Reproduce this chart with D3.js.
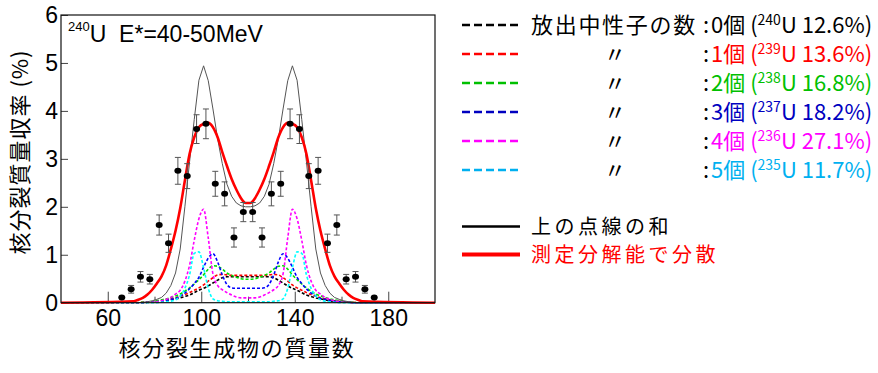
<!DOCTYPE html>
<html>
<head>
<meta charset="utf-8">
<script src="https://cdn.jsdelivr.net/npm/d3@7"></script>
<style>
  body { margin: 0; background: #fff; }
  text { font-family: "Noto Sans CJK JP", "Noto Sans", sans-serif; }
  .num { font-family: "Liberation Sans", Arial, sans-serif; }
</style>
</head>
<body>
<svg id="chart" width="878" height="373"></svg>
<script>
// mass numbers of the model curves
const masses = [40,
  71, 73, 75, 77, 79, 81, 83, 85, 87, 89, 91, 93, 95, 97, 99, 101, 103, 105, 107, 109, 111, 113, 115, 117, 119,
  121, 123, 125, 127, 129, 131, 133, 135, 137, 139, 141, 143, 145, 147, 149, 151, 153, 155, 157, 159, 161, 163, 165, 167, 169,
  200]

// yields (%) for each number of emitted neutrons
const n0 = [0,
  0, 0, 0, 0.01, 0.01, 0.02, 0.03, 0.04, 0.06, 0.08, 0.10, 0.13, 0.16, 0.21, 0.26, 0.30, 0.35, 0.41, 0.47, 0.52, 0.54, 0.54, 0.54, 0.54, 0.54,
  0.54, 0.54, 0.54, 0.54, 0.54, 0.52, 0.47, 0.41, 0.35, 0.30, 0.26, 0.21, 0.16, 0.13, 0.10, 0.08, 0.06, 0.04, 0.03, 0.02, 0.01, 0.01, 0, 0, 0,
  0]
const n1 = [0,
  0, 0, 0.01, 0.01, 0.02, 0.03, 0.04, 0.06, 0.08, 0.10, 0.14, 0.17, 0.21, 0.26, 0.31, 0.37, 0.45, 0.52, 0.58, 0.59, 0.58, 0.57, 0.57, 0.57, 0.57,
  0.57, 0.57, 0.57, 0.57, 0.58, 0.59, 0.58, 0.52, 0.45, 0.37, 0.31, 0.26, 0.21, 0.17, 0.14, 0.10, 0.08, 0.06, 0.04, 0.03, 0.02, 0.01, 0.01, 0, 0,
  0]
const n2 = [0,
  0, 0, 0.01, 0.01, 0.02, 0.04, 0.06, 0.08, 0.11, 0.14, 0.18, 0.24, 0.31, 0.39, 0.48, 0.58, 0.70, 0.77, 0.76, 0.70, 0.62, 0.57, 0.53, 0.50, 0.49,
  0.49, 0.50, 0.53, 0.57, 0.62, 0.70, 0.76, 0.77, 0.70, 0.58, 0.48, 0.39, 0.31, 0.24, 0.18, 0.14, 0.11, 0.08, 0.06, 0.04, 0.02, 0.01, 0.01, 0, 0,
  0]
const n3 = [0,
  0, 0, 0, 0.01, 0.01, 0.02, 0.03, 0.05, 0.07, 0.09, 0.14, 0.20, 0.29, 0.40, 0.53, 0.74, 0.93, 1.02, 0.85, 0.58, 0.38, 0.31, 0.30, 0.30, 0.30,
  0.30, 0.30, 0.30, 0.31, 0.38, 0.58, 0.85, 1.02, 0.93, 0.74, 0.53, 0.40, 0.29, 0.20, 0.14, 0.09, 0.07, 0.05, 0.03, 0.02, 0.01, 0.01, 0, 0, 0,
  0]
const n4 = [0,
  0, 0, 0, 0.01, 0.01, 0.02, 0.04, 0.07, 0.11, 0.18, 0.26, 0.45, 0.78, 1.30, 1.75, 1.95, 1.35, 0.60, 0.36, 0.27, 0.21, 0.16, 0.12, 0.10, 0.10,
  0.10, 0.10, 0.12, 0.16, 0.21, 0.27, 0.36, 0.60, 1.35, 1.95, 1.75, 1.30, 0.78, 0.45, 0.26, 0.18, 0.11, 0.07, 0.04, 0.02, 0.01, 0.01, 0, 0, 0,
  0]
const n5 = [0,
  0, 0, 0, 0, 0, 0, 0.01, 0.02, 0.03, 0.06, 0.14, 0.30, 0.58, 1.03, 1.06, 0.73, 0.30, 0.08, 0.04, 0.03, 0.02, 0.02, 0.02, 0.02, 0.02,
  0.02, 0.02, 0.02, 0.02, 0.02, 0.03, 0.04, 0.08, 0.30, 0.73, 1.06, 1.03, 0.58, 0.30, 0.14, 0.06, 0.03, 0.02, 0.01, 0, 0, 0, 0, 0, 0,
  0]

// sum of the dashed curves, and the sum smeared by the resolution
const sumLine = [0,
  0, 0, 0.01, 0.02, 0.04, 0.07, 0.11, 0.20, 0.36, 0.62, 1.12, 2.00, 2.94, 3.82, 4.64, 4.94, 4.63, 4.04, 3.42, 2.90, 2.47, 2.22, 2.08, 2.02, 2.00,
  2.00, 2.02, 2.08, 2.22, 2.47, 2.90, 3.42, 4.04, 4.63, 4.94, 4.64, 3.82, 2.94, 2.00, 1.12, 0.62, 0.36, 0.20, 0.11, 0.07, 0.04, 0.02, 0.01, 0, 0,
  0]
const smeared = [0,
  0.03, 0.06, 0.10, 0.17, 0.27, 0.40, 0.55, 0.78, 1.12, 1.50, 1.97, 2.55, 3.10, 3.45, 3.66, 3.73, 3.75, 3.66, 3.45, 3.14, 2.85, 2.58, 2.36, 2.18, 2.08,
  2.08, 2.18, 2.36, 2.58, 2.85, 3.14, 3.45, 3.66, 3.75, 3.73, 3.66, 3.45, 3.10, 2.55, 1.97, 1.50, 1.12, 0.78, 0.55, 0.40, 0.27, 0.17, 0.10, 0.06, 0.03,
  0]

// measured yields
const dataMass = [66, 70, 74, 78, 82, 86, 90, 94, 98, 102, 106, 110, 114, 118, 122, 126, 130, 134, 138, 142, 146, 150, 154, 158, 162, 166, 170, 174]
const dataYield = [0.11, 0.28, 0.54, 0.49, 1.62, 1.24, 2.75, 2.64, 3.62, 3.73, 2.48, 2.27, 1.36, 1.89, 1.89, 1.36, 2.27, 2.48, 3.73, 3.62, 2.64, 2.75, 1.24, 1.62, 0.49, 0.54, 0.28, 0.11]
const dataErr = [0, 0.08, 0.11, 0.10, 0.21, 0.19, 0.28, 0.26, 0.30, 0.31, 0.26, 0.25, 0.20, 0.20, 0.20, 0.20, 0.25, 0.26, 0.31, 0.30, 0.26, 0.28, 0.19, 0.21, 0.10, 0.11, 0.08, 0]

const xTicks = [60, 100, 140, 180]
const xMinor = [80, 120, 160]
const yTicks = [0, 1, 2, 3, 4, 5, 6]

// legend
const neutronCounts = ['0', '1', '2', '3', '4', '5']
const isotopes = ['240', '239', '238', '237', '236', '235']
const fractions = ['12.6%', '13.6%', '16.8%', '18.2%', '27.1%', '11.7%']
const lineColors = ['#000000', '#ff0000', '#00dd00', '#0000ff', '#ff00ff', '#00ffff']
const legendColors = ['#000000', '#ff0000', '#00c000', '#0000c0', '#ff00ff', '#00b0f0']

const svg = d3.select('#chart')
const width = +svg.attr('width')
const height = +svg.attr('height')
svg.append('rect').attr('width', width).attr('height', height).attr('fill', '#fff')

const plot = { left: 61, right: 435, top: 15, bottom: 302.7 }
const x = d3.scaleLinear().domain([40, 200]).range([plot.left, plot.right])
const y = d3.scaleLinear().domain([0, 6]).range([plot.bottom, plot.top])

// ticks (inward)
const xAxis = svg.append('g')
  .attr('transform', `translate(0,${plot.bottom})`)
  .call(d3.axisBottom(x).tickValues(xTicks).tickSizeInner(-11).tickSizeOuter(0).tickPadding(7))
xAxis.select('.domain').remove()
xAxis.selectAll('text').attr('class', 'num').style('font-size', '23px').attr('fill', '#000')
xAxis.selectAll('line').attr('stroke', '#444')

const xMinorAxis = svg.append('g')
  .attr('transform', `translate(0,${plot.bottom})`)
  .call(d3.axisBottom(x).tickValues(xMinor).tickSizeInner(-6).tickSizeOuter(0).tickFormat(''))
xMinorAxis.select('.domain').remove()
xMinorAxis.selectAll('line').attr('stroke', '#444')

const yAxis = svg.append('g')
  .attr('transform', `translate(${plot.left},0)`)
  .call(d3.axisLeft(y).tickValues(yTicks).tickSizeInner(-7).tickSizeOuter(0).tickPadding(3).tickFormat(d3.format('d')))
yAxis.select('.domain').remove()
yAxis.selectAll('text').attr('class', 'num').style('font-size', '23px').attr('fill', '#000')
yAxis.selectAll('line').attr('stroke', '#444')

// curves
const pts = vals => masses.map((m, i) => [m, vals[i]])
const smooth = d3.line().x(d => x(d[0])).y(d => y(d[1])).curve(d3.curveMonotoneX)
const straight = d3.line().x(d => x(d[0])).y(d => y(d[1]))

const dashed = [n0, n1, n2, n3, n4, n5]
dashed.forEach((vals, i) => {
  svg.append('path')
    .attr('d', smooth(pts(vals)))
    .attr('fill', 'none')
    .attr('stroke', lineColors[i])
    .attr('stroke-width', 1.6)
    .attr('stroke-dasharray', '3,2')
})

svg.append('path')
  .attr('d', straight(pts(sumLine)))
  .attr('fill', 'none')
  .attr('stroke', '#555')
  .attr('stroke-width', 1)

svg.append('path')
  .attr('d', smooth(pts(smeared)))
  .attr('fill', 'none')
  .attr('stroke', '#ff0000')
  .attr('stroke-width', 2.6)

// frame
svg.append('rect')
  .attr('x', plot.left).attr('y', plot.top)
  .attr('width', plot.right - plot.left).attr('height', plot.bottom - plot.top)
  .attr('fill', 'none').attr('stroke', '#111').attr('stroke-width', 1.2)

// measured points with error bars
const meas = dataMass.map((m, i) => ({ m, v: dataYield[i], e: dataErr[i] }))
const bars = svg.append('g').attr('stroke', '#555').attr('stroke-width', 1)
meas.filter(d => d.e > 0).forEach(d => {
  const cx = x(d.m)
  bars.append('line').attr('x1', cx).attr('x2', cx).attr('y1', y(d.v - d.e)).attr('y2', y(d.v + d.e))
  bars.append('line').attr('x1', cx - 3).attr('x2', cx + 3).attr('y1', y(d.v - d.e)).attr('y2', y(d.v - d.e))
  bars.append('line').attr('x1', cx - 3).attr('x2', cx + 3).attr('y1', y(d.v + d.e)).attr('y2', y(d.v + d.e))
})
svg.append('g').selectAll('ellipse')
  .data(meas)
  .enter().append('ellipse')
  .attr('cx', d => x(d.m))
  .attr('cy', d => y(d.v))
  .attr('rx', 3.5)
  .attr('ry', 3)
  .attr('fill', '#000')

// title inside the frame
const title = svg.append('text').attr('class', 'num').attr('x', 68).attr('y', 41.7).style('font-size', '23px')
title.append('tspan').style('font-size', '13px').attr('dy', -11).text('240')
title.append('tspan').attr('dy', 11).text('U\u00a0 E*=40-50MeV')

// axis titles
svg.append('text')
  .attr('x', 237).attr('y', 356)
  .attr('text-anchor', 'middle')
  .style('font-size', '22px').style('letter-spacing', '1.7px')
  .text('核分裂生成物の質量数')

svg.append('text')
  .attr('transform', 'translate(28,152) rotate(-90)')
  .attr('text-anchor', 'middle')
  .style('font-size', '22px').style('letter-spacing', '1px')
  .text('核分裂質量収率 (%)')

// legend: neutron emission
const lx1 = 462
const lx2 = 520
neutronCounts.forEach((n, i) => {
  const ly = 25 + i * 29
  svg.append('line')
    .attr('x1', lx1).attr('x2', lx2).attr('y1', ly).attr('y2', ly)
    .attr('stroke', legendColors[i]).attr('stroke-width', 2.6)
    .attr('stroke-dasharray', '8,4')
  if (i === 0) {
    svg.append('text').attr('x', 531).attr('y', ly).attr('dy', '0.36em')
      .style('font-size', '22px').style('letter-spacing', '1.7px')
      .text('放出中性子の数')
  } else {
    svg.append('text').attr('x', 615).attr('y', ly).attr('dy', '0.36em')
      .attr('text-anchor', 'middle').style('font-size', '22px')
      .text('〃')
  }
  svg.append('text').attr('x', 703).attr('y', ly).attr('dy', '0.36em')
    .style('font-size', '22px').text(':')
  const t = svg.append('text').attr('x', 711).attr('y', ly).attr('dy', '0.36em')
    .style('font-size', '22px').attr('fill', legendColors[i])
  t.append('tspan').text(`${n}個 (`)
  t.append('tspan').style('font-size', '14px').attr('dy', -8).text(isotopes[i])
  t.append('tspan').attr('dy', 8).text(`U ${fractions[i]})`)
})

// legend: totals
const sumLegend = [
  { label: '上の点線の和', color: '#000000', w: 2.6, y: 226.5 },
  { label: '測定分解能で分散', color: '#ff0000', w: 4, y: 254.5 }
]
sumLegend.forEach(d => {
  svg.append('line')
    .attr('x1', lx1).attr('x2', lx2).attr('y1', d.y).attr('y2', d.y)
    .attr('stroke', d.color).attr('stroke-width', d.w)
  svg.append('text').attr('x', 531).attr('y', d.y).attr('dy', '0.36em')
    .style('font-size', '20px').style('letter-spacing', '3.5px')
    .attr('fill', d.color)
    .text(d.label)
})
</script>
</body>
</html>
